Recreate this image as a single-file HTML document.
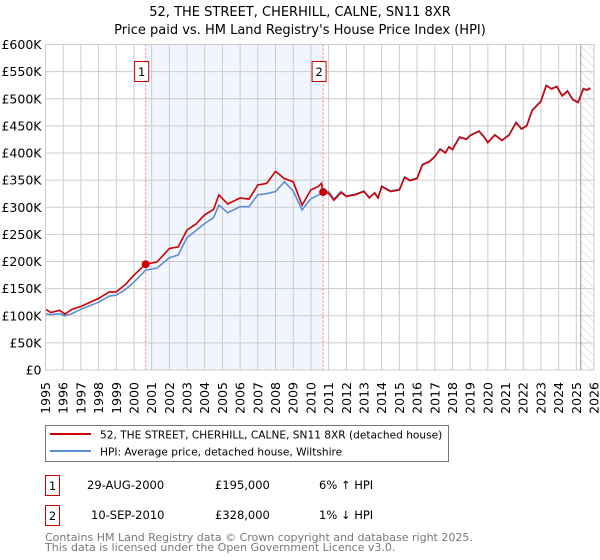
<!DOCTYPE html>
<html><head><meta charset="utf-8"><style>
html,body{margin:0;padding:0;background:#fff;width:600px;height:560px;overflow:hidden;font-family:"Liberation Sans","DejaVu Sans",sans-serif}
svg text{font-family:"DejaVu Sans","Liberation Sans",sans-serif}
</style></head><body>
<svg id="chart" width="600" height="560" viewBox="0 0 600 560" xmlns="http://www.w3.org/2000/svg">
<defs><pattern id="hatch" width="6" height="6" patternUnits="userSpaceOnUse" patternTransform="rotate(-45)"><line x1="0" y1="0" x2="0" y2="6" stroke="#ccc" stroke-width="1"/></pattern></defs>
<text x="300" y="16" text-anchor="middle" font-size="13">52, THE STREET, CHERHILL, CALNE, SN11 8XR</text>
<text x="300" y="34" text-anchor="middle" font-size="13">Price paid vs. HM Land Registry's House Price Index (HPI)</text>
<g id="plot"></g>
<g>
<rect x="45.5" y="425.5" width="403" height="36" fill="#fff" stroke="#777"/>
<line x1="50" y1="434" x2="91" y2="434" stroke="#cc0000" stroke-width="2"/>
<text x="100" y="438.5" font-size="10.6">52, THE STREET, CHERHILL, CALNE, SN11 8XR (detached house)</text>
<line x1="50" y1="451" x2="91" y2="451" stroke="#5b8fd4" stroke-width="2"/>
<text x="100" y="455.5" font-size="10.6">HPI: Average price, detached house, Wiltshire</text>
</g>
<g font-size="11.5">
<rect x="45.5" y="475.5" width="14" height="20" fill="#fff" stroke="#cc0000"/>
<text x="52.5" y="490" text-anchor="middle">1</text>
<text x="87" y="489">29-AUG-2000</text><text x="215" y="489">£195,000</text><text x="319" y="489">6% ↑ HPI</text>
</g>
<g font-size="11.5">
<rect x="45.5" y="505.5" width="14" height="20" fill="#fff" stroke="#cc0000"/>
<text x="52.5" y="520" text-anchor="middle">2</text>
<text x="91" y="519">10-SEP-2010</text><text x="215" y="519">£328,000</text><text x="319" y="519">1% ↓ HPI</text>
</g>
<g font-size="11" fill="#777">
<text x="45" y="541">Contains HM Land Registry data © Crown copyright and database right 2025.</text>
<text x="45" y="551">This data is licensed under the Open Government Licence v3.0.</text>
</g>
</svg>
<script>
const years=[1995.0,1995.3,1995.8,1996.1,1996.5,1997.0,1998.0,1998.6,1999.0,1999.5,2000.0,2000.66,2001.3,2002.0,2002.5,2003.0,2003.5,2004.0,2004.5,2004.8,2005.3,2006.0,2006.5,2007.0,2007.5,2008.0,2008.5,2009.0,2009.5,2010.0,2010.4,2010.6,2010.7,2011.0,2011.3,2011.7,2012.0,2012.5,2013.0,2013.3,2013.6,2013.8,2014.0,2014.5,2015.0,2015.3,2015.6,2016.0,2016.3,2016.7,2017.0,2017.3,2017.6,2017.8,2018.0,2018.4,2018.8,2019.0,2019.5,2019.8,2020.0,2020.4,2020.8,2021.2,2021.6,2021.9,2022.2,2022.5,2023.0,2023.3,2023.6,2023.9,2024.2,2024.5,2024.8,2025.1,2025.4,2025.6,2025.8];
const priceSeries=[112,106,110,103,112,117,132,144,144,157,175,195,199,224,227,258,269,286,296,323,306,317,315,341,344,366,353,347,304,332,338,344,327,326,313,327,320,323,329,317,326,317,338,329,332,355,349,353,378,384,393,407,400,411,406,429,425,432,440,429,419,433,423,433,456,444,450,478,495,524,518,522,505,514,498,493,518,516,519];
const hpiSeries=[104,102,104,100,104,112,125,136,138,148,162,184,188,207,212,244,257,270,281,304,290,301,301,323,325,329,347,330,295,316,322,326,331,329,315,329,321,324,330,318,327,318,339,330,333,356,350,354,379,385,394,408,401,412,407,430,426,433,441,430,420,434,424,434,457,445,451,479,496,525,519,523,506,515,499,494,519,517,520];
const sales=[{year:2000.66,price:195,label:"1"},{year:2010.69,price:328,label:"2"}];
const yTicks=[0,50,100,150,200,250,300,350,400,450,500,550,600];
const xTicks=[];for(let y=1995;y<=2026;y++)xTicks.push(y);
const X0=45.5,X1=594,Y0=370,Y1=44.5;
const xs=y=>X0+(y-1995)/(2026-1995)*(X1-X0);
const ys=v=>Y0-v/600*(Y0-Y1);
const NS="http://www.w3.org/2000/svg";
const g=document.getElementById('plot');
function mk(t,a,p){const e=document.createElementNS(NS,t);for(const k in a)e.setAttribute(k,a[k]);(p||g).appendChild(e);return e;}
let r=mk('rect',{x:xs(2000.66),y:Y1,width:xs(2010.69)-xs(2000.66),height:Y0-Y1,fill:'#eef3fc',opacity:0.8});


r=mk('rect',{x:xs(2025.25),y:Y1,width:X1-xs(2025.25),height:Y0-Y1,fill:'url(#hatch)'});


yTicks.forEach(v=>{
 const l=mk('line',{x1:X0,x2:X1,y1:ys(v),y2:ys(v),stroke:'#ccc','stroke-width':1});
 
 
 const t=mk('text',{x:X0-4,y:ys(v)+4.5,'text-anchor':'end','font-size':12.5});
 
 
 t.textContent=v===0?'£0':'£'+v+'K';
});
xTicks.forEach(y=>{
 const l=mk('line',{x1:xs(y),x2:xs(y),y1:Y1,y2:Y0,stroke:'#ccc','stroke-width':1});
 
 
 const t=mk('text',{x:0,y:0,'text-anchor':'end','font-size':12.5,transform:`translate(${xs(y)+4.5},${Y0+12}) rotate(-90)`});
 
 
 t.textContent=y;
});
let v=mk('line',{x1:xs(2025.25),x2:xs(2025.25),y1:Y1,y2:Y0,stroke:'#999','stroke-width':1});


sales.forEach(s=>{
 const l=mk('line',{x1:xs(s.year),x2:xs(s.year),y1:Y1,y2:Y0,stroke:'#f08080','stroke-width':1,'stroke-dasharray':'2,2'});
 
 
});
function path(arr){return years.map((y,i)=>(i?'L':'M')+xs(y).toFixed(1)+','+ys(arr[i]).toFixed(1)).join('');}
let p=mk('path',{d:path(hpiSeries),fill:'none',stroke:'#5b8fd4','stroke-width':1.6});


p=mk('path',{d:path(priceSeries),fill:'none',stroke:'#cc0000','stroke-width':1.6});


sales.forEach(s=>{
 const c=mk('circle',{cx:xs(s.year),cy:ys(s.price),r:4,fill:'#cc0000'});
 
 
 const b=mk('rect',{x:xs(s.year)-11,y:61.5,width:14,height:20,fill:'#fff',stroke:'#cc0000'});
 
 
 const t=mk('text',{x:xs(s.year)-4,y:76,'text-anchor':'middle','font-size':11.5});
 
 
 t.textContent=s.label;
});
const f=mk('rect',{x:X0,y:Y1,width:X1-X0,height:Y0-Y1,fill:'none',stroke:'#ccc'});


</script>
</body></html>
